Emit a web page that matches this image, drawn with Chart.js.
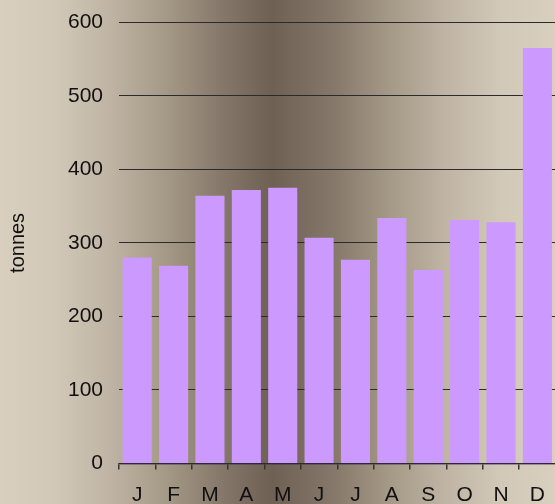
<!DOCTYPE html>
<html>
<head>
<meta charset="utf-8">
<script src="https://cdn.jsdelivr.net/npm/chart.js@4"></script>
<style>
    html, body { margin: 0; padding: 0; overflow: hidden; }
    #wrap { position: absolute; left: 0; top: 0; width: 558px; height: 504px; }
</style>
</head>
<body>
<div id="wrap"><canvas id="chart"></canvas></div>
<script>
"use strict";

const months = ['J', 'F', 'M', 'A', 'M', 'J', 'J', 'A', 'S', 'O', 'N', 'D'];
const tonnes = [280, 269, 364, 372, 375, 307, 277, 334, 263, 331, 328, 565];
const yTicks = [0, 100, 200, 300, 400, 500, 600];

const fontFamily = '"Liberation Sans", Arial, sans-serif';

// horizontal light-dark-light backdrop across the whole canvas
const backdrop = {
    id: 'backdrop',
    beforeDraw(chart) {
        const ctx = chart.ctx;
        const w = chart.width;
        const gr = ctx.createLinearGradient(0, 0, w - 3, 0);
        gr.addColorStop(0, '#d9cfbf');
        gr.addColorStop(0.1, '#d2c8b8');
        gr.addColorStop(0.2, '#bfb4a4');
        gr.addColorStop(0.3, '#a49886');
        gr.addColorStop(0.4, '#85786a');
        gr.addColorStop(0.49, '#6e6052');
        gr.addColorStop(0.6, '#85786a');
        gr.addColorStop(0.7, '#a49886');
        gr.addColorStop(0.8, '#bfb4a4');
        gr.addColorStop(0.9, '#d2c8b8');
        gr.addColorStop(1, '#d9cfbf');
        ctx.save();
        ctx.fillStyle = gr;
        ctx.fillRect(0, 0, w, chart.height);
        ctx.restore();
    }
};

new Chart(document.getElementById('chart'), {
    type: 'bar',
    data: {
        labels: months,
        datasets: [{
            data: tonnes,
            backgroundColor: '#cc99ff',
            borderWidth: 0,
            barPercentage: 0.8,
            categoryPercentage: 1.0
        }]
    },
    options: {
        responsive: true,
        maintainAspectRatio: false,
        animation: false,
        layout: { padding: { top: 0, right: 1, left: 0, bottom: 0 } },
        plugins: {
            legend: { display: false },
            tooltip: { enabled: false }
        },
        scales: {
            x: {
                z: 1,
                grid: {
                    offset: true,
                    drawOnChartArea: false,
                    drawTicks: true,
                    tickLength: 6,
                    tickColor: '#333',
                    lineWidth: 1.5
                },
                border: { display: true, color: 'rgba(50,40,60,0.75)', width: 1.5 },
                ticks: {
                    color: '#111',
                    padding: 13,
                    maxRotation: 0,
                    autoSkip: false,
                    font: { family: fontFamily, size: 21 }
                },
                afterFit: s => { s.height = 40.5; }
            },
            y: {
                min: 0,
                max: 600,
                afterBuildTicks: s => { s.ticks = yTicks.map(v => ({ value: v })); },
                grid: {
                    drawTicks: false,
                    color: '#2b2b2b',
                    lineWidth: 1
                },
                border: { display: false },
                ticks: {
                    color: '#111',
                    padding: 16,
                    font: { family: fontFamily, size: 21 }
                },
                title: {
                    display: true,
                    text: 'tonnes',
                    color: '#111',
                    padding: { top: 6, bottom: 0 },
                    font: { family: fontFamily, size: 20 }
                },
                afterFit: s => {
                    s.width = 119;
                    s.paddingTop = 22.3;
                    s.paddingBottom = 0;
                }
            }
        }
    },
    plugins: [backdrop]
});
</script>
</body>
</html>
